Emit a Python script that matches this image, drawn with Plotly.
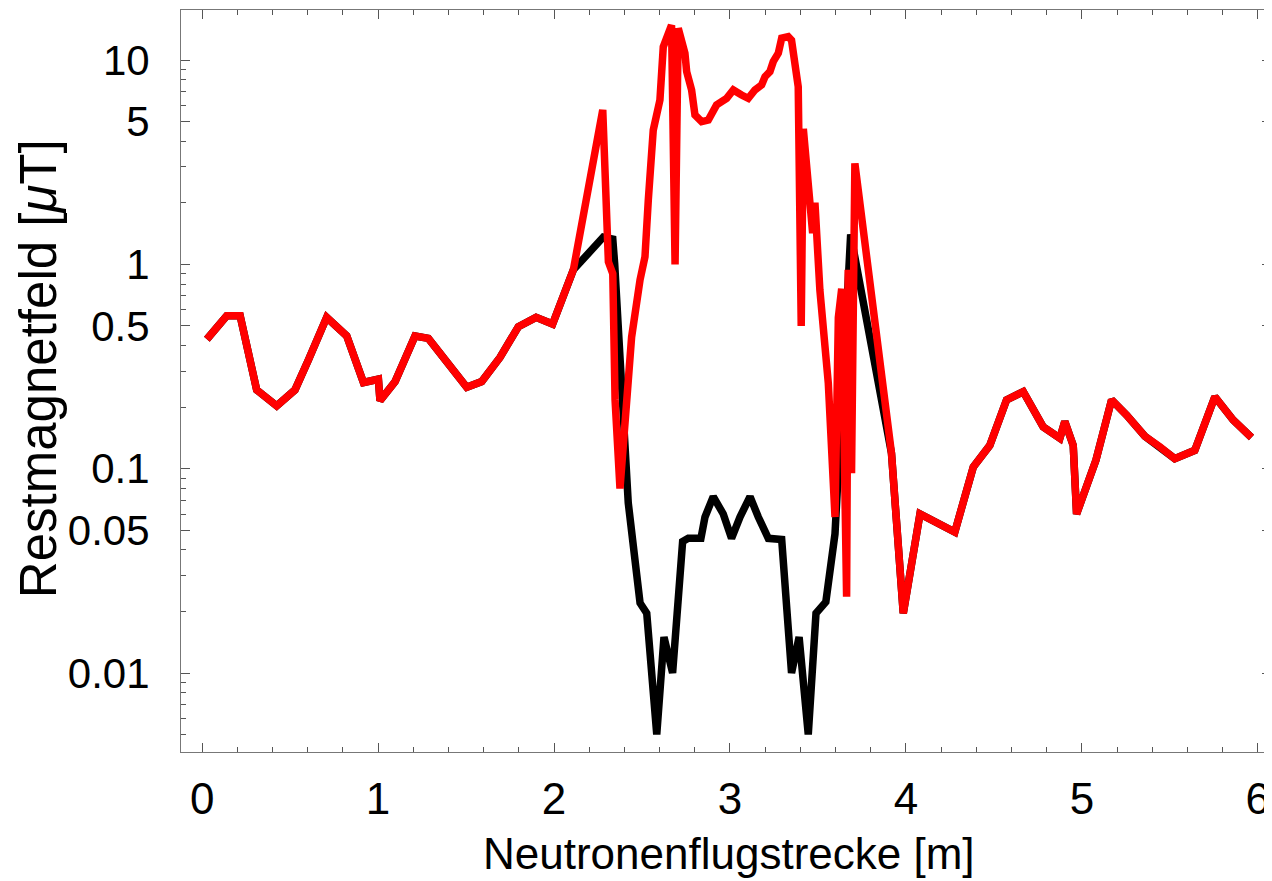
import plotly.graph_objects as go

# shared parts of both curves (outer regions)
x_left = [0.027, 0.14, 0.216, 0.31, 0.424, 0.528, 0.604, 0.708, 0.822, 0.917, 1.002, 1.011,
          1.097, 1.21, 1.286, 1.39, 1.504, 1.589, 1.693, 1.797, 1.898, 1.992, 2.11]
y_left = [0.43, 0.56, 0.56, 0.243, 0.203, 0.243, 0.34, 0.55, 0.446, 0.264, 0.274, 0.215,
          0.267, 0.446, 0.434, 0.334, 0.25, 0.267, 0.35, 0.495, 0.55, 0.51, 0.94]

x_right = [3.918, 3.985, 4.08, 4.278, 4.383, 4.477, 4.572, 4.667, 4.78, 4.875, 4.903, 4.951,
           4.97, 5.08, 5.169, 5.254, 5.358, 5.443, 5.528, 5.642, 5.756, 5.86, 5.964]
y_right = [0.119, 0.0196, 0.06, 0.049, 0.102, 0.13, 0.217, 0.238, 0.16, 0.141, 0.17, 0.13,
           0.06, 0.11, 0.217, 0.183, 0.144, 0.128, 0.112, 0.123, 0.225, 0.173, 0.142]

# middle region, red curve
x_red_mid = [2.277, 2.309, 2.334, 2.347, 2.375, 2.441, 2.489, 2.517, 2.536, 2.564, 2.602, 2.621,
             2.668, 2.688, 2.706, 2.744, 2.754, 2.782, 2.801, 2.839, 2.877, 2.915, 2.924, 2.981,
             3.019, 3.066, 3.104, 3.142, 3.18, 3.199, 3.227, 3.246, 3.275, 3.294, 3.331, 3.35,
             3.36, 3.388, 3.405, 3.417, 3.47, 3.483, 3.511, 3.559, 3.597, 3.616, 3.635, 3.663,
             3.672, 3.691, 3.71]
y_red_mid = [5.7, 1.03, 0.9, 0.217, 0.08, 0.44, 0.84, 1.09, 2.07, 4.54, 6.37, 11.6,
             14.8, 1.0, 14.3, 10.8, 8.77, 7.13, 5.38, 4.99, 5.08, 5.7, 6.03, 6.49,
             7.13, 6.74, 6.49, 7.13, 7.55, 8.28, 8.77, 9.81, 10.8, 12.8, 13.0, 12.5,
             10.4, 7.4, 0.5, 4.6, 1.42, 2.0, 0.75, 0.262, 0.058, 0.55, 0.76, 0.0236,
             0.94, 0.095, 3.12]

# middle region, black curve
x_black_mid = [2.28, 2.334, 2.345, 2.422, 2.489, 2.527, 2.584, 2.625, 2.674, 2.731, 2.763, 2.835,
               2.858, 2.905, 2.962, 3.009, 3.057, 3.114, 3.161, 3.218, 3.294, 3.35, 3.393, 3.445,
               3.489, 3.545, 3.597, 3.686]
y_black_mid = [1.36, 1.33, 1.0, 0.068, 0.022, 0.0196, 0.005, 0.015, 0.01, 0.044, 0.0456, 0.0456,
               0.058, 0.073, 0.06, 0.0456, 0.058, 0.073, 0.058, 0.0456, 0.045, 0.01, 0.015, 0.005,
               0.0196, 0.0223, 0.048, 1.4]

x_ticks = [0, 1, 2, 3, 4, 5, 6]
y_ticks = [0.01, 0.05, 0.1, 0.5, 1, 5, 10]
y_ticklabels = ["0.01", "0.05", "0.1", "0.5", "1", "5", "10"]
x_title = "Neutronenflugstrecke [m]"
y_title = "Restmagnetfeld [<i>μ</i>T]"

x_black = x_left + x_black_mid + x_right
y_black = y_left + y_black_mid + y_right
x_red = x_left + x_red_mid + x_right
y_red = y_left + y_red_mid + y_right

y_minor = []
for dec in [0.001, 0.01, 0.1, 1, 10]:
    for m in range(2, 10):
        v = round(m * dec, 6)
        if 0.0041 < v < 17.5 and v not in y_ticks:
            y_minor.append(v)
x_minor = [round(i * 0.2, 2) for i in range(0, 31) if i % 5 != 0]

fig = go.Figure()
fig.add_trace(go.Scatter(x=x_black, y=y_black, mode="lines",
                         line=dict(color="#000000", width=7.5), showlegend=False))
fig.add_trace(go.Scatter(x=x_red, y=y_red, mode="lines",
                         line=dict(color="#ff0000", width=7.5), showlegend=False))

font_family = "Liberation Sans, Arial, sans-serif"
# the page body adds an 8px offset; the figure is sized so the plot area lands at 181..1271 x 10..752
fig.update_layout(
    width=1264, height=873,
    margin=dict(l=173, r=1, t=2, b=129),
    paper_bgcolor="white", plot_bgcolor="white",
    font=dict(family=font_family, color="black"),
    xaxis=dict(
        range=[-0.12, 6.075], showgrid=False, zeroline=False,
        showline=True, linecolor="#777777", linewidth=1, mirror="allticks",
        tickmode="array", tickvals=x_ticks, ticks="inside", ticklen=9, tickcolor="#555555",
        tickwidth=1, tickfont=dict(size=44, family=font_family),
        ticklabelstandoff=8,
        minor=dict(tickmode="array", tickvals=x_minor, ticks="inside", ticklen=5,
                   tickcolor="#555555", tickwidth=1, showgrid=False),
    ),
    yaxis=dict(
        type="log", range=[-2.3866, 1.2447], showgrid=False, zeroline=False,
        showline=True, linecolor="#777777", linewidth=1, mirror="allticks",
        tickmode="array", tickvals=y_ticks, ticktext=y_ticklabels,
        ticks="inside", ticklen=9, tickcolor="#555555", tickwidth=1,
        tickfont=dict(size=42, family=font_family), ticklabelstandoff=22,
        minor=dict(tickmode="array", tickvals=y_minor, ticks="inside", ticklen=5,
                   tickcolor="#555555", tickwidth=1, showgrid=False),
    ),
    annotations=[
        dict(text=y_title, textangle=-90, xref="paper", yref="paper",
             x=0, y=0.516, xanchor="center", yanchor="middle", xshift=-143,
             showarrow=False, font=dict(size=51, family=font_family, color="black")),
        dict(text=x_title, xref="paper", yref="paper",
             x=0.5025, y=0, xanchor="center", yanchor="middle", yshift=-101,
             showarrow=False, font=dict(size=44, family=font_family, color="black")),
    ],
)

fig.write_html("out.html")
